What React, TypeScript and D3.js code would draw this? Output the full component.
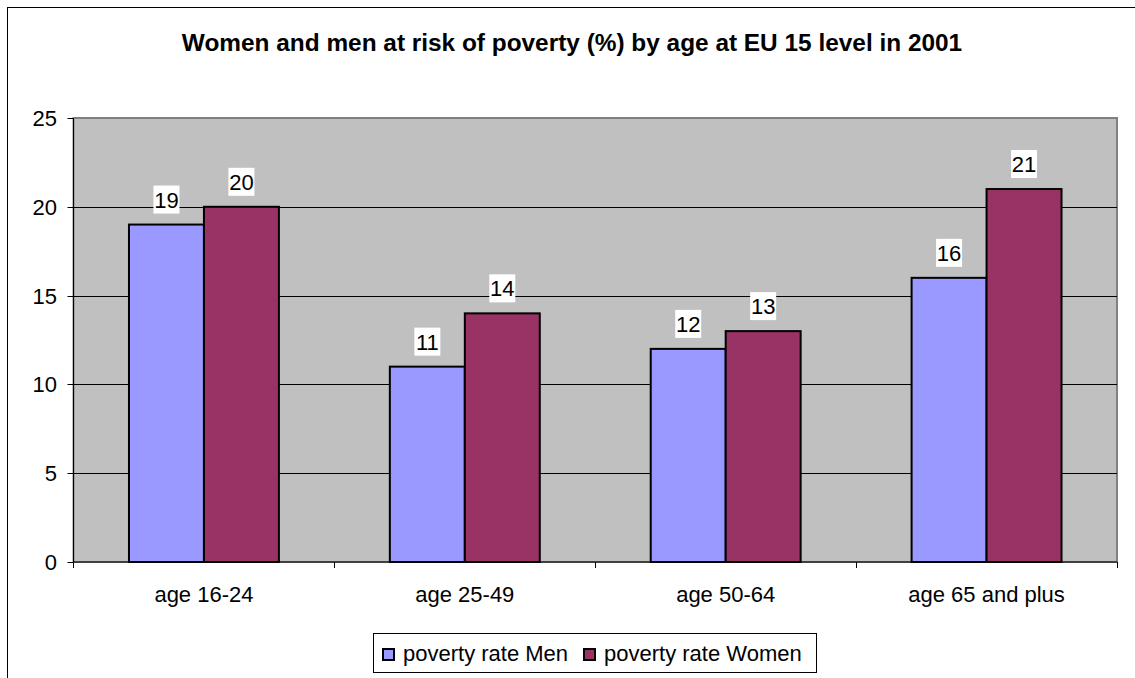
import React from "react";
import * as d3 from "d3";

const categories = ["age 16-24", "age 25-49", "age 50-64", "age 65 and plus"];
const seriesNames = ["poverty rate Men", "poverty rate Women"];
const men = [19, 11, 12, 16];
const women = [20, 14, 13, 21];
const yTicks = [0, 5, 10, 15, 20, 25];
const colors = ["#9999FF", "#993366"];

export default function App() {
  const W = 1135, H = 678;
  const left = 73.5, right = 1117, top = 118, bottom = 562;
  const x = d3.scaleBand<string>().domain(categories).range([left, right]).paddingInner(0).paddingOuter(0);
  const y = d3.scaleLinear().domain([0, 25]).range([bottom, top]);
  const inner = d3.scaleBand<number>().domain([0, 1]).range([0, x.bandwidth()]).paddingInner(0).paddingOuter(0.74);
  const font = "Arial, 'Liberation Sans', sans-serif";
  const series = [men, women];

  return (
    <svg width={W} height={H} style={{ position: "absolute", left: 0, top: 0 }} fontFamily={font}>
      <rect x={0} y={0} width={W} height={H} fill="#fff" />
      <rect x={7.5} y={7.5} width={W + 10} height={H + 10} fill="none" stroke="#000" strokeWidth={1} />
      <text x={572} y={51} textAnchor="middle" fontSize={24.4} fontWeight="bold">
        Women and men at risk of poverty (%) by age at EU 15 level in 2001
      </text>
      <rect x={left} y={top} width={right - left} height={bottom - top} fill="#C0C0C0" stroke="#808080" strokeWidth={2} />
      {yTicks.filter(t => t > 0 && t < 25).map(t => (
        <line key={t} x1={left} x2={right} y1={Math.round(y(t)) + 0.5} y2={Math.round(y(t)) + 0.5} stroke="#000" strokeWidth={1} />
      ))}
      {series.map((vals, si) =>
        categories.map((c, ci) => {
          const bx = (x(c) as number) + (inner(si) as number);
          return (
            <rect key={si + "-" + ci} x={bx} y={y(vals[ci])} width={inner.bandwidth()} height={bottom - y(vals[ci])}
              fill={colors[si]} stroke="#000" strokeWidth={2} />
          );
        })
      )}
      <line x1={left} x2={left} y1={top} y2={bottom + 6} stroke="#000" strokeWidth={1} />
      <line x1={left} x2={right} y1={bottom} y2={bottom} stroke="#000" strokeWidth={1} />
      {yTicks.map(t => (
        <g key={t}>
          <line x1={left - 6} x2={left} y1={Math.round(y(t)) + 0.5} y2={Math.round(y(t)) + 0.5} stroke="#000" />
          <text x={57} y={y(t) + 8} textAnchor="end" fontSize={22}>{t}</text>
        </g>
      ))}
      {categories.map((c, i) => (
        <line key={"b" + i} x1={Math.round((x(c) as number) + x.bandwidth()) + 0.5} x2={Math.round((x(c) as number) + x.bandwidth()) + 0.5}
          y1={bottom} y2={bottom + 6} stroke="#000" />
      ))}
      {categories.map(c => (
        <text key={c} x={(x(c) as number) + x.bandwidth() / 2} y={602} textAnchor="middle" fontSize={22}>{c}</text>
      ))}
      {series.map((vals, si) =>
        categories.map((c, ci) => {
          const cx = (x(c) as number) + (inner(si) as number) + inner.bandwidth() / 2;
          const by = y(vals[ci]);
          return (
            <g key={"l" + si + ci}>
              <rect x={cx - 13} y={by - 39} width={26} height={28} fill="#fff" />
              <text x={cx} y={by - 17} textAnchor="middle" fontSize={22}>{vals[ci]}</text>
            </g>
          );
        })
      )}
      <rect x={373.5} y={633.5} width={443} height={39} fill="#fff" stroke="#000" strokeWidth={1} />
      {seriesNames.map((s, i) => {
        const lx = i === 0 ? 383 : 584;
        return (
          <g key={s}>
            <rect x={lx} y={649} width={11} height={11} fill={colors[i]} stroke="#000" strokeWidth={2} />
            <text x={lx + 20} y={661} fontSize={22}>{s}</text>
          </g>
        );
      })}
    </svg>
  );
}
